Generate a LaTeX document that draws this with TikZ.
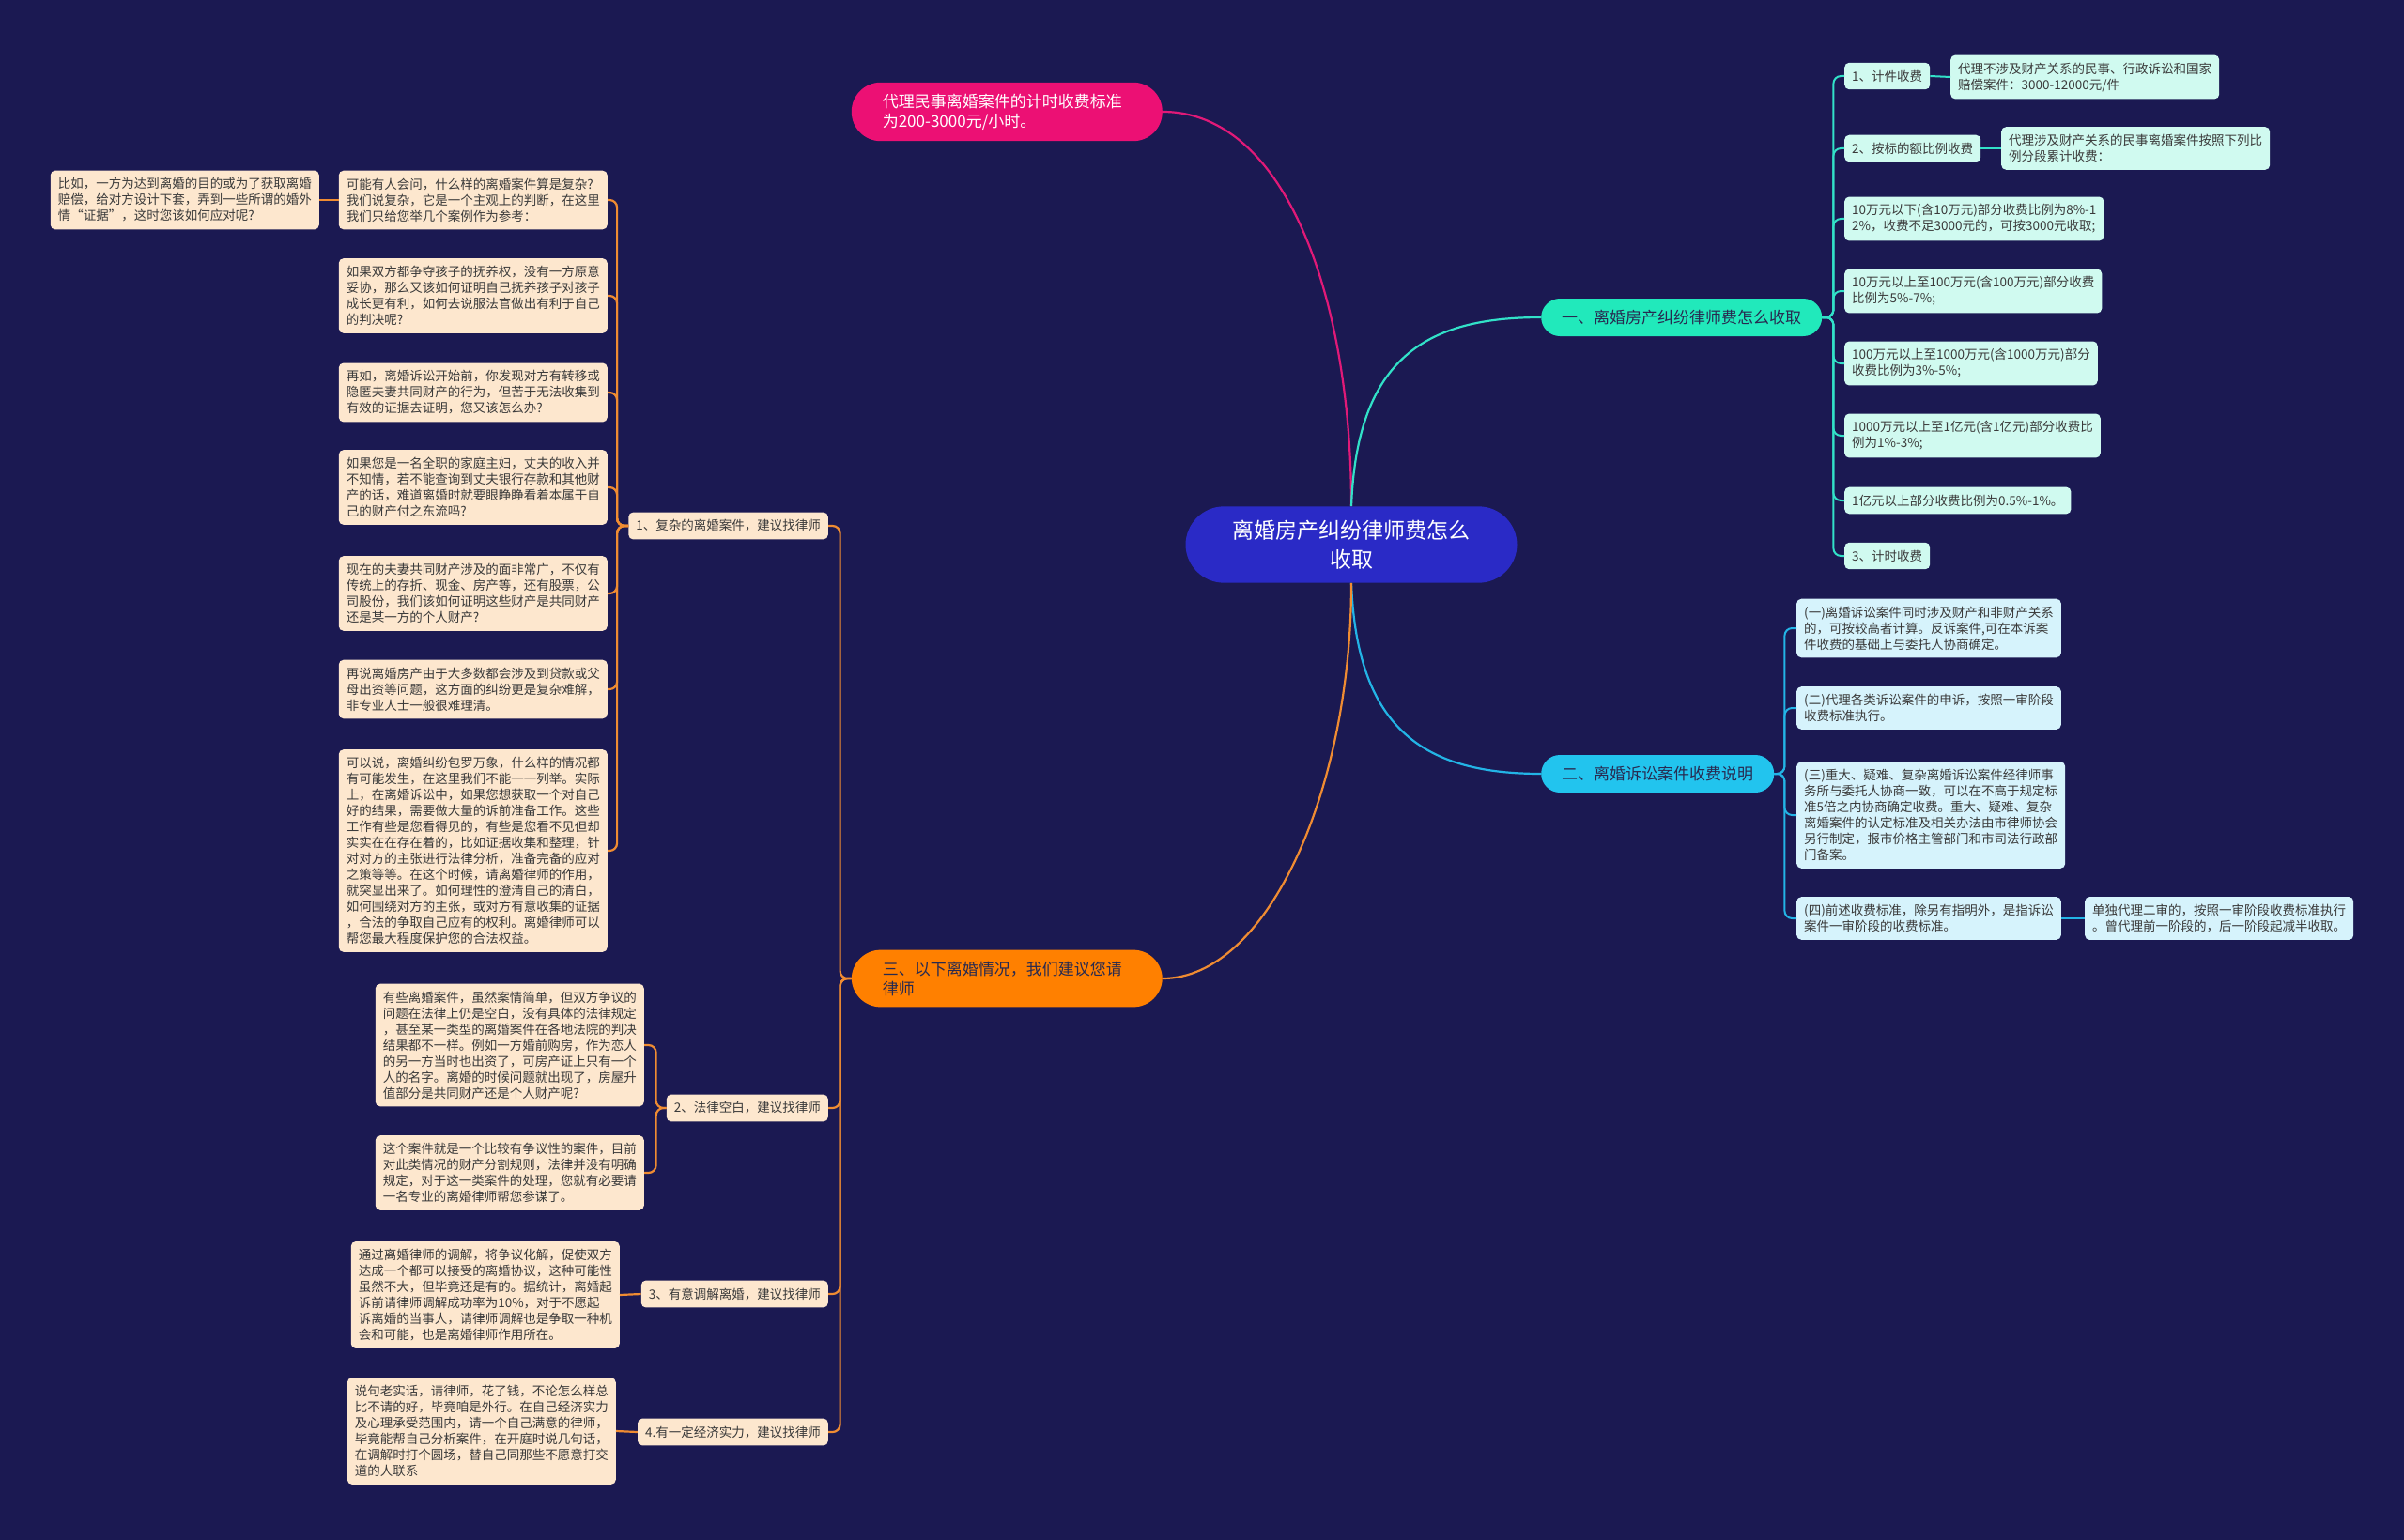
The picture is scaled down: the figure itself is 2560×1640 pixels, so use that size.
\documentclass[tikz,border=0pt]{standalone}
\usepackage{fontspec}
\setmainfont{Noto Sans CJK SC}
\definecolor{bgnavy}{RGB}{27,25,82}
\definecolor{rootblue}{RGB}{42,42,198}
\definecolor{pinkfill}{RGB}{236,16,116}
\definecolor{tealfill}{RGB}{33,233,187}
\definecolor{skyfill}{RGB}{34,196,238}
\definecolor{orangefill}{RGB}{255,128,0}
\definecolor{tealpale}{RGB}{208,250,240}
\definecolor{skypale}{RGB}{214,243,252}
\definecolor{peach}{RGB}{253,231,206}
\definecolor{pinkedge}{RGB}{225,25,120}
\definecolor{tealedge}{RGB}{50,225,200}
\definecolor{skyedge}{RGB}{35,180,230}
\definecolor{orangeedge}{RGB}{240,140,50}
\definecolor{textgray}{RGB}{58,58,58}
\definecolor{topictext}{RGB}{40,42,80}

\tikzset{
    box/.style={rounded corners=5pt, align=left, inner xsep=8pt, inner ysep=8pt,
        text=textgray, font=\fontsize{13.5}{17}\selectfont},
    tealbox/.style={box, fill=tealpale},
    skybox/.style={box, fill=skypale},
    peachbox/.style={box, fill=peach},
    topic/.style={rounded corners=20pt, minimum height=40pt, inner xsep=22pt,
        text=topictext, font=\fontsize{17}{22}\selectfont},
    bigtopic/.style={rounded corners=31pt, inner xsep=33pt, inner ysep=12pt,
        text width=265pt, align=left, font=\fontsize{17}{21}\selectfont},
    tealline/.style={draw=tealedge, line width=2pt},
    skyline/.style={draw=skyedge, line width=2pt},
    orangeline/.style={draw=orangeedge, line width=2.2pt},
}

\begin{document}
\begin{tikzpicture}[x=1pt, y=-1pt]
        % background and page size
        \fill[bgnavy] (0,0) rectangle (2560,1640);
        \useasboundingbox (0,0) rectangle (2560,1640);

        % root
        \node[fill=rootblue, text=white, rounded corners=41pt, inner xsep=50pt, inner ysep=14.5pt,
            align=center, font=\fontsize{23}{31}\selectfont] (root) at (1439,580)
            {离婚房产纠纷律师费怎么\\收取};

        % main topics
        \node[bigtopic, fill=pinkfill, text=white, anchor=east] (hourly) at (1238,119)
            {代理民事离婚案件的计时收费标准\\为200-3000元/小时。};
        \node[topic, fill=tealfill, anchor=west] (yi) at (1641,338) {一、离婚房产纠纷律师费怎么收取};
        \node[topic, fill=skyfill, anchor=west] (er) at (1641,824) {二、离婚诉讼案件收费说明};
        \node[bigtopic, fill=orangefill, text=topictext, anchor=east] (san) at (1238,1042)
            {三、以下离婚情况，我们建议您请\\律师};

        % fee items
        \node[tealbox, anchor=west] (t1) at (1964,81) {1、计件收费};
        \node[tealbox, anchor=west] (t1a) at (2077,82) {代理不涉及财产关系的民事、行政诉讼和国家\\赔偿案件：3000-12000元/件};
        \node[tealbox, anchor=west] (t2) at (1964,158) {2、按标的额比例收费};
        \node[tealbox, anchor=west] (t2a) at (2131,158) {代理涉及财产关系的民事离婚案件按照下列比\\例分段累计收费：};
        \node[tealbox, anchor=west] (t3) at (1964,233) {10万元以下(含10万元)部分收费比例为8\%-1\\2\%，收费不足3000元的，可按3000元收取;};
        \node[tealbox, anchor=west] (t4) at (1964,310) {10万元以上至100万元(含100万元)部分收费\\比例为5\%-7\%;};
        \node[tealbox, anchor=west] (t5) at (1964,387) {100万元以上至1000万元(含1000万元)部分\\收费比例为3\%-5\%;};
        \node[tealbox, anchor=west] (t6) at (1964,464) {1000万元以上至1亿元(含1亿元)部分收费比\\例为1\%-3\%;};
        \node[tealbox, anchor=west] (t7) at (1964,533) {1亿元以上部分收费比例为0.5\%-1\%。};
        \node[tealbox, anchor=west] (t8) at (1964,592) {3、计时收费};

        % litigation notes
        \node[skybox, anchor=west] (b1) at (1913,669) {(一)离婚诉讼案件同时涉及财产和非财产关系\\的，可按较高者计算。反诉案件,可在本诉案\\件收费的基础上与委托人协商确定。};
        \node[skybox, anchor=west] (b2) at (1913,754) {(二)代理各类诉讼案件的申诉，按照一审阶段\\收费标准执行。};
        \node[skybox, anchor=west] (b3) at (1913,868) {(三)重大、疑难、复杂离婚诉讼案件经律师事\\务所与委托人协商一致，可以在不高于规定标\\准5倍之内协商确定收费。重大、疑难、复杂\\离婚案件的认定标准及相关办法由市律师协会\\另行制定，报市价格主管部门和市司法行政部\\门备案。};
        \node[skybox, anchor=west] (b4) at (1913,978) {(四)前述收费标准，除另有指明外，是指诉讼\\案件一审阶段的收费标准。};
        \node[skybox, anchor=west] (b4a) at (2220,978) {单独代理二审的，按照一审阶段收费标准执行\\。曾代理前一阶段的，后一阶段起减半收取。};

        % reasons to hire a lawyer
        \node[peachbox, anchor=east] (o1) at (882,560) {1、复杂的离婚案件，建议找律师};
        \node[peachbox, anchor=east] (o2) at (882,1180) {2、法律空白，建议找律师};
        \node[peachbox, anchor=east] (o3) at (882,1378) {3、有意调解离婚，建议找律师};
        \node[peachbox, anchor=east] (o4) at (882,1525) {4.有一定经济实力，建议找律师};

        \node[peachbox, anchor=east] (c1) at (647,213) {可能有人会问，什么样的离婚案件算是复杂?\\我们说复杂，它是一个主观上的判断，在这里\\我们只给您举几个案例作为参考：};
        \node[peachbox, anchor=east] (c1a) at (340,213) {比如，一方为达到离婚的目的或为了获取离婚\\赔偿，给对方设计下套，弄到一些所谓的婚外\\情“证据”，这时您该如何应对呢?};
        \node[peachbox, anchor=east] (c2) at (647,315) {如果双方都争夺孩子的抚养权，没有一方原意\\妥协，那么又该如何证明自己抚养孩子对孩子\\成长更有利，如何去说服法官做出有利于自己\\的判决呢?};
        \node[peachbox, anchor=east] (c3) at (647,418) {再如，离婚诉讼开始前，你发现对方有转移或\\隐匿夫妻共同财产的行为，但苦于无法收集到\\有效的证据去证明，您又该怎么办?};
        \node[peachbox, anchor=east] (c4) at (647,519) {如果您是一名全职的家庭主妇，丈夫的收入并\\不知情，若不能查询到丈夫银行存款和其他财\\产的话，难道离婚时就要眼睁睁看着本属于自\\己的财产付之东流吗?};
        \node[peachbox, anchor=east] (c5) at (647,632) {现在的夫妻共同财产涉及的面非常广，不仅有\\传统上的存折、现金、房产等，还有股票，公\\司股份，我们该如何证明这些财产是共同财产\\还是某一方的个人财产?};
        \node[peachbox, anchor=east] (c6) at (647,734) {再说离婚房产由于大多数都会涉及到贷款或父\\母出资等问题，这方面的纠纷更是复杂难解，\\非专业人士一般很难理清。};
        \node[peachbox, anchor=east] (c7) at (647,906) {可以说，离婚纠纷包罗万象，什么样的情况都\\有可能发生，在这里我们不能一一列举。实际\\上，在离婚诉讼中，如果您想获取一个对自己\\好的结果，需要做大量的诉前准备工作。这些\\工作有些是您看得见的，有些是您看不见但却\\实实在在存在着的，比如证据收集和整理，针\\对对方的主张进行法律分析，准备完备的应对\\之策等等。在这个时候，请离婚律师的作用，\\就突显出来了。如何理性的澄清自己的清白，\\如何围绕对方的主张，或对方有意收集的证据\\，合法的争取自己应有的权利。离婚律师可以\\帮您最大程度保护您的合法权益。};

        \node[peachbox, anchor=east] (g1) at (686,1113) {有些离婚案件，虽然案情简单，但双方争议的\\问题在法律上仍是空白，没有具体的法律规定\\，甚至某一类型的离婚案件在各地法院的判决\\结果都不一样。例如一方婚前购房，作为恋人\\的另一方当时也出资了，可房产证上只有一个\\人的名字。离婚的时候问题就出现了，房屋升\\值部分是共同财产还是个人财产呢?};
        \node[peachbox, anchor=east] (g2) at (686,1249) {这个案件就是一个比较有争议性的案件，目前\\对此类情况的财产分割规则，法律并没有明确\\规定，对于这一类案件的处理，您就有必要请\\一名专业的离婚律师帮您参谋了。};
        \node[peachbox, anchor=east] (m1) at (660,1379) {通过离婚律师的调解，将争议化解，促使双方\\达成一个都可以接受的离婚协议，这种可能性\\虽然不大，但毕竟还是有的。据统计，离婚起\\诉前请律师调解成功率为10\%，对于不愿起\\诉离婚的当事人，请律师调解也是争取一种机\\会和可能，也是离婚律师作用所在。};
        \node[peachbox, anchor=east] (w1) at (656,1524) {说句老实话，请律师，花了钱，不论怎么样总\\比不请的好，毕竟咱是外行。在自己经济实力\\及心理承受范围内，请一个自己满意的律师，\\毕竟能帮自己分析案件，在开庭时说几句话，\\在调解时打个圆场，替自己同那些不愿意打交\\道的人联系};

        % curves from the root
        \draw[draw=pinkedge, line width=2.2pt] (root.north) .. controls (1439,320) and (1370,119) .. (hourly.east);
        \draw[draw=tealedge, line width=2.2pt] (root.north) .. controls (1445,380) and (1520,338) .. (yi.west);
        \draw[draw=skyedge, line width=2.2pt] (root.south) .. controls (1445,780) and (1520,824) .. (er.west);
        \draw[orangeline] (root.south) .. controls (1439,840) and (1350,1042) .. (san.east);

        % brackets
        \foreach \n in {t1,t2,t3,t4,t5,t6,t7,t8}
        {
            \draw[tealline, rounded corners=8pt] (yi.east) -- ++(12,0) |- (\n.west);
        }
        \foreach \n in {b1,b2,b3,b4}
        {
            \draw[skyline, rounded corners=8pt] (er.east) -- ++(11,0) |- (\n.west);
        }
        \foreach \n in {o1,o2,o3,o4}
        {
            \draw[orangeline, rounded corners=8pt] (san.west) -- ++(-12,0) |- (\n.east);
        }
        \foreach \n in {c1,c2,c3,c4,c5,c6,c7}
        {
            \draw[orangeline, rounded corners=8pt] (o1.west) -- ++(-12,0) |- (\n.east);
        }
        \foreach \n in {g1,g2}
        {
            \draw[orangeline, rounded corners=8pt] (o2.west) -- ++(-11,0) |- (\n.east);
        }
        % single links
        \draw[tealline] (t1.east) -- (t1a.west);
        \draw[tealline] (t2.east) -- (t2a.west);
        \draw[skyline] (b4.east) -- (b4a.west);
        \draw[orangeline] (c1.west) -- (c1a.east);
        \draw[orangeline] (o3.west) -- (m1.east);
        \draw[orangeline] (o4.west) -- (w1.east);
    \end{tikzpicture}
\end{document}
